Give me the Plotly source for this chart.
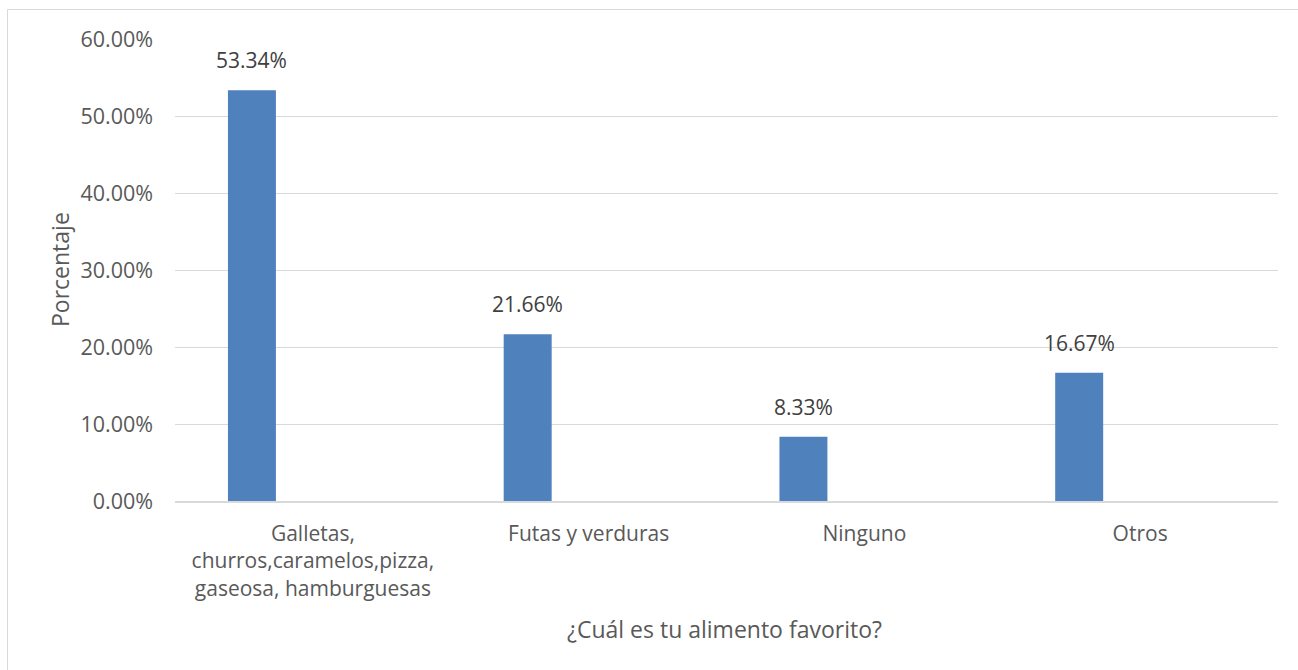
import plotly.graph_objects as go

# Survey results: favourite food
categories = [
    "Galletas,<br>churros,caramelos,pizza,<br>gaseosa, hamburguesas",
    "Futas y verduras",
    "Ninguno",
    "Otros",
]
percentages = [0.5334, 0.2166, 0.0833, 0.1667]
value_labels = ["53.34%", "21.66%", "8.33%", "16.67%"]
y_ticks = [0.0, 0.1, 0.2, 0.3, 0.4, 0.5, 0.6]

W, H = 1298, 670
M_L, M_R, M_T, M_B = 175, 20, 39, 169
plot_w = W - M_L - M_R
plot_h = H - M_T - M_B

BAR_OFFSET = -0.308   # left edge of bar relative to category centre (category units)
BAR_WIDTH = 0.174
cat_px = plot_w / len(categories)
label_shift = (BAR_OFFSET + BAR_WIDTH / 2) * cat_px

FONT = "Open Sans"
TXT = "#595959"

fig = go.Figure()
fig.add_trace(go.Bar(
    x=categories,
    y=percentages,
    offset=BAR_OFFSET,
    width=BAR_WIDTH,
    marker=dict(color="#4f81bd", line=dict(width=0)),
    hoverinfo="skip",
))

for cat, val, lab in zip(categories, percentages, value_labels):
    fig.add_annotation(
        x=cat, y=val, text=lab, showarrow=False,
        xanchor="center", yanchor="bottom",
        xshift=label_shift, yshift=14,
        font=dict(family=FONT, size=21, color="#404040"),
    )

# Axis titles
fig.add_annotation(
    text="¿Cuál es tu alimento favorito?", xref="paper", yref="paper",
    x=(724 - M_L) / plot_w, y=-(629 - (M_T + plot_h)) / plot_h,
    showarrow=False, xanchor="center", yanchor="middle",
    font=dict(family=FONT, size=23, color=TXT),
)
fig.add_annotation(
    text="Porcentaje", xref="paper", yref="paper",
    x=(60 - M_L) / plot_w, y=(M_T + plot_h - 270) / plot_h,
    showarrow=False, xanchor="center", yanchor="middle", textangle=-90,
    font=dict(family=FONT, size=23, color=TXT),
)

# Chart frame
fig.add_shape(
    type="rect", xref="paper", yref="paper",
    x0=(7.5 - M_L) / plot_w, x1=(W + 20 - M_L) / plot_w,
    y0=-(H + 20 - (M_T + plot_h)) / plot_h, y1=(M_T + plot_h - 9.5) / plot_h,
    line=dict(color="#d9d9d9", width=1), fillcolor="rgba(0,0,0,0)", layer="below",
)

fig.update_layout(
    width=W, height=H,
    margin=dict(l=M_L, r=M_R, t=M_T, b=M_B, autoexpand=False),
    paper_bgcolor="white", plot_bgcolor="white",
    showlegend=False,
    font=dict(family=FONT, size=21, color=TXT),
)
fig.update_xaxes(
    type="category", showgrid=False, ticks="", showline=True,
    linecolor="#d9d9d9", linewidth=1.5, ticklabelstandoff=13,
    tickfont=dict(family=FONT, size=21, color=TXT),
)
fig.update_yaxes(
    range=[0, 0.6], tickvals=y_ticks, tickformat=".2%",
    showgrid=True, gridcolor="#d9d9d9", gridwidth=1,
    zeroline=False, ticks="", ticklabelstandoff=21,
    tickfont=dict(family=FONT, size=21.5, color=TXT),
)

fig.write_html("out.html")
